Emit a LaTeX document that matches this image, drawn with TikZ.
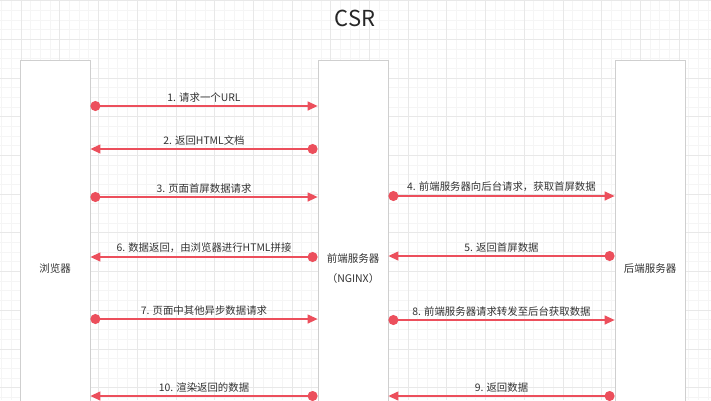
\documentclass[tikz,border=0pt]{standalone}
\usepackage{fontspec}
\setmainfont{Noto Sans CJK SC}
\usetikzlibrary{arrows.meta}
\definecolor{msgred}{HTML}{EC4F5C}
\definecolor{gridminor}{HTML}{F5F5F5}
\definecolor{gridmajor}{HTML}{E8E8E8}
\definecolor{boxgray}{HTML}{CFCFCF}
\definecolor{txtgray}{HTML}{333333}

\begin{document}
\begin{tikzpicture}[
            x=1pt, y=-1pt,
            lane/.style={draw=boxgray, fill=white, line width=0.8pt, rectangle, anchor=north,
                minimum width=70pt, minimum height=416pt, align=center,
                font=\fontsize{10.5}{20}\selectfont, text=txtgray},
            msg/.style={draw=msgred, line width=1.3pt,
                {Circle[length=10pt]}-{Triangle[length=10pt,width=9pt]}},
            lbl/.style={above, font=\fontsize{10.4}{12}\selectfont, text=txtgray}
            ]
            \clip (0,0) rectangle (711,400);
            \fill[white] (0,0) rectangle (711,400);
            % background grid
            \foreach \k in {-2,...,71} \draw[gridminor, line width=0.6pt] ({21+9.675*\k},0) -- ({21+9.675*\k},400);
            \foreach \k in {0,...,41} \draw[gridminor, line width=0.6pt] (0,{0.5+9.675*\k}) -- (711,{0.5+9.675*\k});
            \foreach \k in {-1,...,17} \draw[gridmajor, line width=0.6pt] ({21+38.7*\k},0) -- ({21+38.7*\k},400);
            \foreach \k in {0,...,10} \draw[gridmajor, line width=0.6pt] (0,{0.5+38.7*\k}) -- (711,{0.5+38.7*\k});

            \node [font=\fontsize{22}{24}\selectfont, text=black!85] (title) at (355,18) {CSR};

            \node [lane] (browser) at (55,60) {浏览器};
            \node [lane] (front) at (353,60) {前端服务器\\（NGINX）};
            \node [lane] (back) at (650,60) {后端服务器};

            \coordinate (r1) at (0,106);
            \coordinate (r2) at (0,149);
            \coordinate (r3) at (0,197);
            \coordinate (r4) at (0,196);
            \coordinate (r5) at (0,256);
            \coordinate (r6) at (0,257);
            \coordinate (r7) at (0,319);
            \coordinate (r8) at (0,320);
            \coordinate (r9) at (0,396);
            \coordinate (r10) at (0,396);

            \draw[msg] (browser.east |- r1) -- node[lbl]{1. 请求一个URL} (front.west |- r1);
            \draw[msg] (front.west |- r2) -- node[lbl]{2. 返回HTML文档} (browser.east |- r2);
            \draw[msg] (browser.east |- r3) -- node[lbl]{3. 页面首屏数据请求} (front.west |- r3);
            \draw[msg] (front.east |- r4) -- node[lbl]{4. 前端服务器向后台请求，获取首屏数据} (back.west |- r4);
            \draw[msg] (back.west |- r5) -- node[lbl]{5. 返回首屏数据} (front.east |- r5);
            \draw[msg] (front.west |- r6) -- node[lbl]{6. 数据返回，由浏览器进行HTML拼接} (browser.east |- r6);
            \draw[msg] (browser.east |- r7) -- node[lbl]{7. 页面中其他异步数据请求} (front.west |- r7);
            \draw[msg] (front.east |- r8) -- node[lbl]{8. 前端服务器请求转发至后台获取数据} (back.west |- r8);
            \draw[msg] (back.west |- r9) -- node[lbl]{9. 返回数据} (front.east |- r9);
            \draw[msg] (front.west |- r10) -- node[lbl]{10. 渲染返回的数据} (browser.east |- r10);
        \end{tikzpicture}
\end{document}
